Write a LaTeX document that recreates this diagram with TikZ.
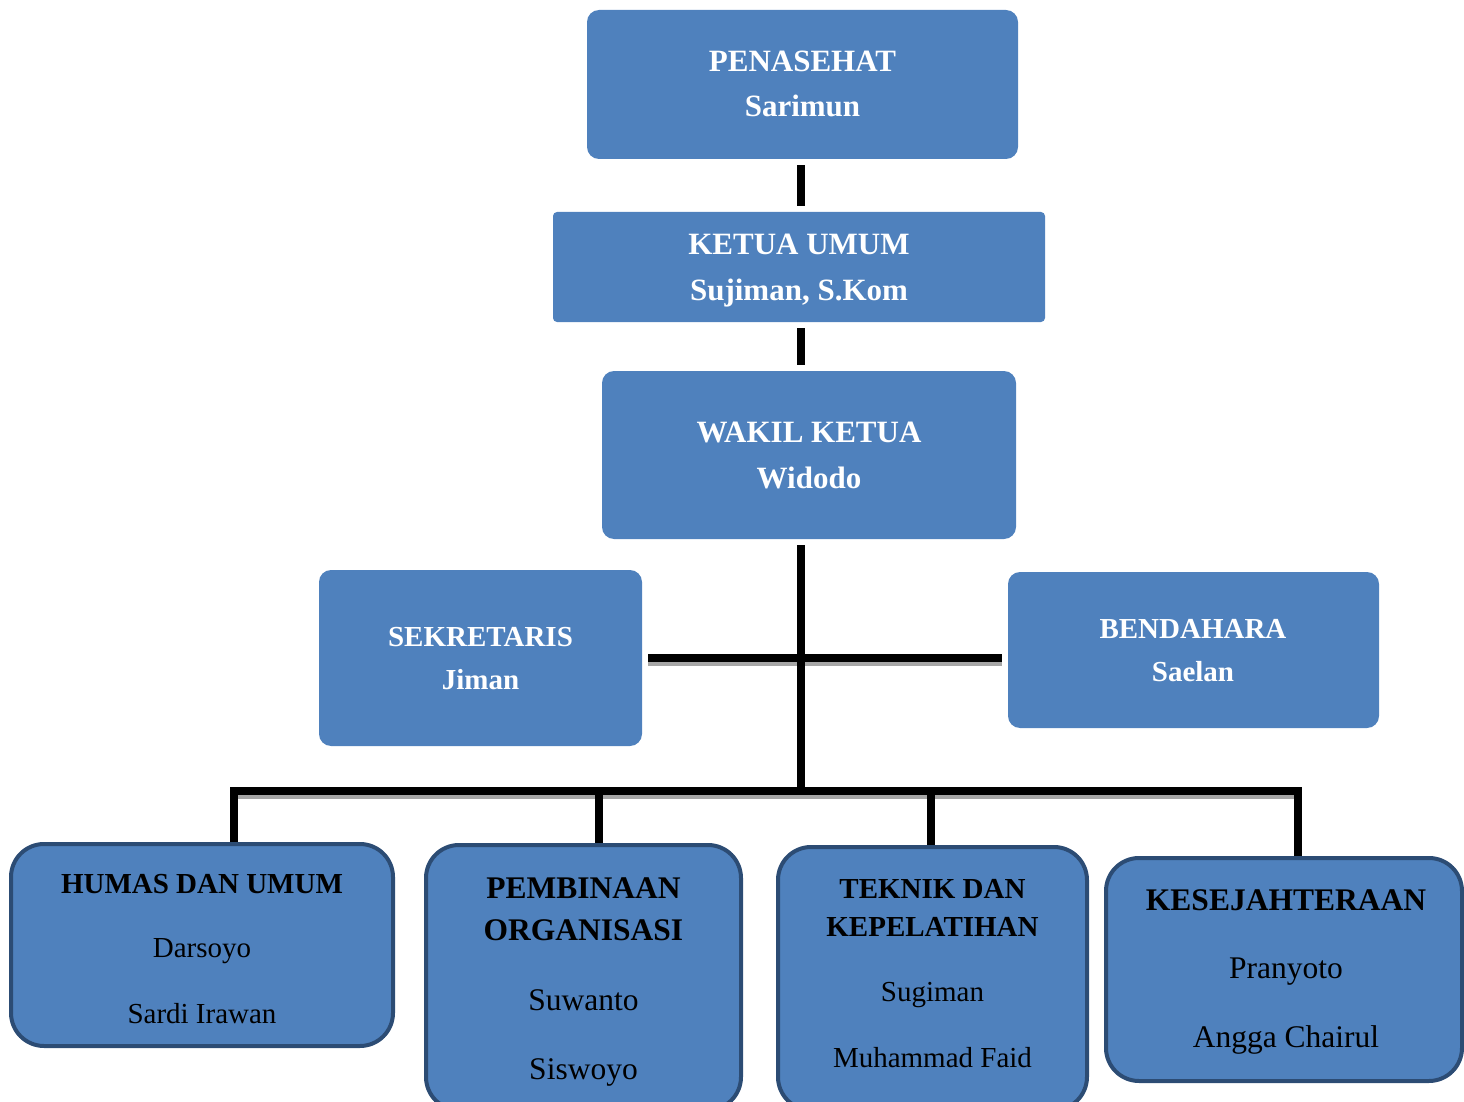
\documentclass[tikz,border=0pt]{standalone}
\usepackage{fontspec}
\setmainfont{Liberation Serif}
\definecolor{boxblue}{HTML}{4F81BD}
\definecolor{boxedge}{HTML}{2C4C74}
\definecolor{shadowgrey}{HTML}{A6A6A6}
\begin{document}
\begin{tikzpicture}[x=0.5pt,y=-0.5pt,
  topbox/.style={fill=boxblue, draw=none, rounded corners=6pt, inner sep=0pt},
  unitbox/.style={fill=boxblue, draw=boxedge, line width=2pt, rounded corners=16.5pt, inner sep=0pt},
  wbig/.style={anchor=base, inner sep=0pt, text=white, font=\fontsize{15.5pt}{18pt}\selectfont\bfseries},
  wsmall/.style={anchor=base, inner sep=0pt, text=white, font=\fontsize{14.5pt}{17pt}\selectfont\bfseries},
  hsmall/.style={anchor=base, inner sep=0pt, text=black, font=\fontsize{14.5pt}{17pt}\selectfont\bfseries},
  nsmall/.style={anchor=base, inner sep=0pt, text=black, font=\fontsize{14.5pt}{17pt}\selectfont},
  hbig/.style={anchor=base, inner sep=0pt, text=black, font=\fontsize{15.75pt}{18pt}\selectfont\bfseries},
  nbig/.style={anchor=base, inner sep=0pt, text=black, font=\fontsize{15.75pt}{18pt}\selectfont},
  link/.style={line width=4pt, draw=black},
  shade/.style={line width=4pt, draw=shadowgrey},
]
\useasboundingbox (0,0) rectangle (1464,1102);
\clip (0,0) rectangle (1464,1102);

% top boxes
\node[topbox, minimum width=215.5pt, minimum height=74.5pt] (pen) at (802.5,84.5) {};
\node[topbox, rounded corners=2pt, minimum width=246pt, minimum height=55pt] (ketua) at (799,267) {};
\node[topbox, minimum width=207pt, minimum height=84pt] (wakil) at (809,455) {};
\node[topbox, minimum width=161.5pt, minimum height=88pt] (sek) at (480.5,658) {};
\node[topbox, minimum width=185.5pt, minimum height=78pt] (bend) at (1193.5,650) {};

% unit boxes
\node[unitbox, minimum width=191pt, minimum height=101pt] (humas) at (202,945) {};
\node[unitbox, minimum width=157.5pt, minimum height=132.5pt] (pemb) at (583.5,977.5) {};
\node[unitbox, minimum width=154.5pt, minimum height=131.5pt] (tek) at (932.5,978.5) {};
\node[unitbox, minimum width=178pt, minimum height=111.5pt] (kes) at (1284,969.5) {};

% texts
\node[wbig] (penA) at (802.5,72) {PENASEHAT};
\node[wbig] (penB) at (802.5,117) {Sarimun};
\node[wbig] (ketA) at (799,255) {KETUA UMUM};
\node[wbig] (ketB) at (799,300) {Sujiman, S.Kom};
\node[wbig] (wakA) at (809,442) {WAKIL KETUA};
\node[wbig] (wakB) at (809,488) {Widodo};
\node[wsmall] (sekA) at (480.5,646) {SEKRETARIS};
\node[wsmall] (sekB) at (480.5,689) {Jiman};
\node[wsmall] (benA) at (1193,638) {BENDAHARA};
\node[wsmall] (benB) at (1193,681) {Saelan};

\node[hsmall] (humA) at (202,893) {HUMAS DAN UMUM};
\node[nsmall] (humB) at (202,957) {Darsoyo};
\node[nsmall] (humC) at (202,1023) {Sardi Irawan};

\node[hbig] (pemA) at (583.5,898) {PEMBINAAN};
\node[hbig] (pemB) at (583.5,940) {ORGANISASI};
\node[nbig] (pemC) at (583.5,1010) {Suwanto};
\node[nbig] (pemD) at (583.5,1079) {Siswoyo};

\node[hsmall] (tekA) at (932.5,898) {TEKNIK DAN};
\node[hsmall] (tekB) at (932.5,936) {KEPELATIHAN};
\node[nsmall] (tekC) at (932.5,1001) {Sugiman};
\node[nsmall] (tekD) at (932.5,1067) {Muhammad Faid};

\node[hbig] (kesA) at (1286,910) {KESEJAHTERAAN};
\node[nbig] (kesB) at (1286,978) {Pranyoto};
\node[nbig] (kesC) at (1286,1047) {Angga Chairul};

% connectors
\coordinate (spine) at (801,0);
\coordinate (hub) at (801,791);
\coordinate (d1) at (233.5,791);
\coordinate (d2) at (599,791);
\coordinate (d3) at (931,791);
\coordinate (d4) at (1298,791);

\draw[link, shorten <=3pt, shorten >=3pt] (pen.south -| spine) -- (ketua.north -| spine);
\draw[link, shorten <=3pt, shorten >=3pt] (ketua.south -| spine) -- (wakil.north -| spine);

% staff line with shadow
\draw[shade, shorten <=3pt, shorten >=3pt] ([yshift=-2pt]sek.east) -- ([yshift=-2pt]sek.east -| bend.west);
\draw[link, shorten <=3pt, shorten >=3pt] (sek.east) -- (sek.east -| bend.west);

% bus with shadow
\draw[shade] ([yshift=-2pt]d1) -- ([yshift=-2pt]d4);
\draw[link, line join=miter] (d1 |- humas.north) -- (d1) -- (d4) -- (d4 |- kes.north);
\draw[link] (d2) -- (d2 |- pemb.north);
\draw[link] (d3) -- (d3 |- tek.north);

% spine down to the bus
\draw[link, shorten <=3pt] (wakil.south -| spine) -- (hub);
\end{tikzpicture}
\end{document}
